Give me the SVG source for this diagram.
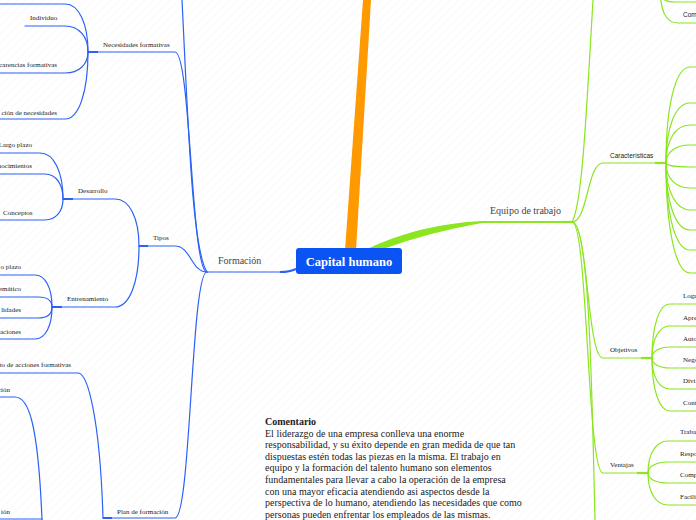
<svg xmlns="http://www.w3.org/2000/svg" width="696" height="520" viewBox="0 0 696 520">
<defs>
<pattern id="bg" width="6" height="6" patternUnits="userSpaceOnUse" patternTransform="rotate(45)"><line x1="0" y1="0" x2="0" y2="6" stroke="#f3f3f3" stroke-width="1"/></pattern>
<style>
.b{fill:none;stroke:#2b62f5;stroke-width:1.2;stroke-linecap:round}
.bt{fill:none;stroke:#2b62f5;stroke-width:2}
.g{fill:none;stroke:#8be51f;stroke-width:1.2;stroke-linecap:round}
.gt{fill:none;stroke:#8be51f;stroke-width:2.2}
.s{font-family:"Liberation Serif","Times New Roman",serif;font-size:7px;fill:#222}
.ss{font-family:"Liberation Sans",Arial,sans-serif;font-size:6.5px;fill:#222}
.m{font-family:"Liberation Serif","Times New Roman",serif;font-size:10px;fill:#444}
.c{font-family:"Liberation Serif","Times New Roman",serif;font-size:10px;fill:#222}
</style>
</defs>
<rect width="696" height="520" fill="#fff"/>
<rect width="696" height="520" fill="url(#bg)"/>

<g id="connectors">
<polygon points="345,250 356,250 371,0 363,0" fill="#ff9900"/>
<path d="M367,249 Q420,224 482,221 L482,223 Q430,232 383,249 Z" fill="#8be51f"/>
<path class="g" d="M480,222 L572,222" style="stroke-width:1.8"/>
<path class="gt" d="M562,222 L572,222"/>
<path class="b" d="M207,272 L282,272 Q290,272 296,269"/>
<path class="bt" d="M280,272 Q290,272 296,269"/>

<path class="b" d="M207,272 C192,250 188,120 182,0"/>
<path class="b" d="M207,272 C191,272 191,52 175,52 L88,52"/>
<path class="bt" d="M88,52 L98,52"/>
<path class="b" d="M207,272 C191,272 191,246 175,246 L139,246"/>
<path class="bt" d="M139,246 L148,246"/>
<path class="b" d="M207,272 C191,272 191,518 175,518 L103,518"/>
<path class="bt" d="M103,518 L112,518"/>

<path class="b" d="M0,4 L65,4 C78.8,4 88,23.2 88,52"/>
<path class="b" d="M25,26 L65,26 C78.8,26 88,36.4 88,52"/>
<path class="b" d="M0,73 L65,73 C78.8,73 88,64.6 88,52"/>
<path class="b" d="M0,119 L65,119 C78.8,119 88,92.2 88,52"/>

<path class="b" d="M63,199 L115,199 C129.4,199 139,217.8 139,246"/>
<path class="bt" d="M63,199 L73,199"/>
<path class="b" d="M52,307 L115,307 C129.4,307 139,282.6 139,246"/>
<path class="bt" d="M52,307 L62,307"/>

<path class="b" d="M0,153 L40,153 C53.8,153 63,171.4 63,199"/>
<path class="b" d="M0,174 L45,174 C55.8,174 63,184 63,199"/>
<path class="b" d="M0,220 L45,220 C55.8,220 63,211.6 63,199"/>

<path class="b" d="M0,275 L35,275 C45.2,275 52,287.8 52,307"/>
<path class="b" d="M0,297 L38,297 C47,297 52,300 52,307"/>
<path class="b" d="M0,318 L38,318 C47,318 52,314 52,307"/>
<path class="b" d="M0,339 L35,339 C45.2,339 52,326.2 52,307"/>

<path class="b" d="M0,373 L78,373 C88,373 100,420 103,518"/>
<path class="b" d="M0,397 L15,397 C28,397 38,420 42,520"/>
<path class="b" d="M0,519 L42,519"/>

<path class="g" d="M572,222 C582,205 586,120 593,0"/>
<path class="g" d="M572,222 C588,222 587,163 603,163 L666,163"/>
<path class="gt" d="M655,163 L666,163"/>
<path class="g" d="M572,222 C588,222 587,358 603,358 L652,358"/>
<path class="gt" d="M641,358 L652,358"/>
<path class="g" d="M572,222 C588,222 587,473 603,473 L648,473"/>
<path class="gt" d="M637,473 L648,473"/>
<path class="g" d="M572,222 C590,222 592,400 595,520"/>

<path class="g" d="M660,-15 C660,0 665,2 675,2 L696,2"/>
<path class="g" d="M660,-15 C660,10 665,23 678,23 L696,23"/>

<path class="g" d="M666,163 C666,105.4 675.6,67 690,67 L696,67"/>
<path class="g" d="M666,163 C666,127 675.6,103 690,103 L696,103"/>
<path class="g" d="M666,163 C666,140.2 675.6,125 690,125 L696,125"/>
<path class="g" d="M666,163 C666,152.2 675.6,145 690,145 L696,145"/>
<path class="g" d="M666,163 C666,165.4 675.6,167 690,167 L696,167"/>
<path class="g" d="M666,163 C666,178 675.6,188 690,188 L696,188"/>
<path class="g" d="M666,163 C666,190.6 675.6,210 690,210 L696,210"/>
<path class="g" d="M666,163 C666,203.2 675.6,230 690,230 L696,230"/>
<path class="g" d="M666,163 C666,215.8 675.6,250 690,250 L696,250"/>
<path class="g" d="M666,163 C666,228.4 675.6,273 690,273 L696,273"/>

<path class="g" d="M652,358 C652,325.6 659.2,304 670,304 L696,304"/>
<path class="g" d="M652,358 C652,338.8 659.2,326 670,326 L696,326"/>
<path class="g" d="M652,358 C652,351.4 659.2,347 670,347 L696,347"/>
<path class="g" d="M652,358 C652,364 659.2,368 670,368 L696,368"/>
<path class="g" d="M652,358 C652,376.6 659.2,389 670,389 L696,389"/>
<path class="g" d="M652,358 C652,389.8 659.2,411 670,411 L696,411"/>

<path class="g" d="M648,473 C648,453.8 656,441 668,441 L696,441"/>
<path class="g" d="M648,473 C648,466.4 656,462 668,462 L696,462"/>
<path class="g" d="M648,473 C648,479 656,483 668,483 L696,483"/>
<path class="g" d="M648,473 C648,492.2 656,505 668,505 L696,505"/>
</g>

<g id="capital-humano">
<rect x="296" y="248" width="106" height="26" rx="3" fill="#0b54f4"/>
<text x="349" y="266" text-anchor="middle" style="font-family:'Liberation Serif','Times New Roman',serif;font-size:12.5px;font-weight:bold;fill:#fff">Capital humano</text>
</g>

<g id="formacion"><text class="m" x="218" y="264">Formación</text></g>
<g id="equipo-de-trabajo"><text class="m" x="490" y="214">Equipo de trabajo</text></g>

<g id="necesidades-formativas"><text class="s" x="103" y="47">Necesidades formativas</text></g>
<g id="individuo"><text class="s" x="30" y="20">Individuo</text></g>
<g id="carencias-formativas"><text class="s" x="57" y="67" text-anchor="end">carencias formativas</text></g>
<g id="deteccion-necesidades"><text class="s" x="57" y="115" text-anchor="end">ción de necesidades</text></g>

<g id="tipos"><text class="s" x="153" y="240">Tipos</text></g>
<g id="desarrollo"><text class="s" x="78" y="193">Desarrollo</text></g>
<g id="largo-plazo"><text class="s" x="32" y="147" text-anchor="end">Largo plazo</text></g>
<g id="conocimientos"><text class="s" x="32" y="168" text-anchor="end">nocimientos</text></g>
<g id="conceptos"><text class="s" x="3" y="215">Conceptos</text></g>

<g id="entrenamiento"><text class="s" x="67" y="301">Entrenamiento</text></g>
<g id="corto-plazo"><text class="s" x="21" y="269" text-anchor="end">o plazo</text></g>
<g id="sistematico"><text class="s" x="21" y="291" text-anchor="end">emático</text></g>
<g id="habilidades"><text class="s" x="21" y="312" text-anchor="end">lidades</text></g>
<g id="aplicaciones"><text class="s" x="21" y="334" text-anchor="end">aciones</text></g>

<g id="plan-de-formacion"><text class="s" x="117" y="514">Plan de formación</text></g>
<g id="acciones-formativas"><text class="s" x="71" y="367" text-anchor="end">to de acciones formativas</text></g>
<g id="plan-item-1"><text class="s" x="10" y="392" text-anchor="end">ción</text></g>
<g id="plan-item-2"><text class="s" x="10" y="514" text-anchor="end">ión</text></g>

<g id="com-top"><text class="ss" x="683" y="17">Com</text></g>
<g id="caracteristicas"><text class="ss" x="610" y="158">Características</text></g>

<g id="objetivos"><text class="s" x="610" y="352">Objetivos</text></g>
<g id="obj-1"><text class="s" x="683" y="298">Logr</text></g>
<g id="obj-2"><text class="s" x="683" y="320">Apre</text></g>
<g id="obj-3"><text class="s" x="683" y="341">Auto</text></g>
<g id="obj-4"><text class="s" x="683" y="362">Nego</text></g>
<g id="obj-5"><text class="s" x="683" y="383">Divi</text></g>
<g id="obj-6"><text class="s" x="683" y="405">Cont</text></g>

<g id="ventajas"><text class="s" x="610" y="467">Ventajas</text></g>
<g id="ven-1"><text class="s" x="680" y="434">Traba</text></g>
<g id="ven-2"><text class="s" x="680" y="456">Respo</text></g>
<g id="ven-3"><text class="s" x="680" y="477">Comp</text></g>
<g id="ven-4"><text class="s" x="680" y="499">Facili</text></g>

<g id="comentario">
<text class="c" x="265" y="425" font-weight="bold">Comentario</text>
<text class="c" x="265" y="436.6">El liderazgo de una empresa conlleva una enorme</text>
<text class="c" x="265" y="448.2">responsabilidad, y su éxito depende en gran medida de que tan</text>
<text class="c" x="265" y="459.8">dispuestas estén todas las piezas en la misma. El trabajo en</text>
<text class="c" x="265" y="471.4">equipo y la formación del talento humano son elementos</text>
<text class="c" x="265" y="483">fundamentales para llevar a cabo la operación de la empresa</text>
<text class="c" x="265" y="494.6">con una mayor eficacia atendiendo asi aspectos desde la</text>
<text class="c" x="265" y="506.2">perspectiva de lo humano, atendiendo las necesidades que como</text>
<text class="c" x="265" y="517.8">personas pueden enfrentar los empleados de las mismas.</text>
</g>
</svg>
